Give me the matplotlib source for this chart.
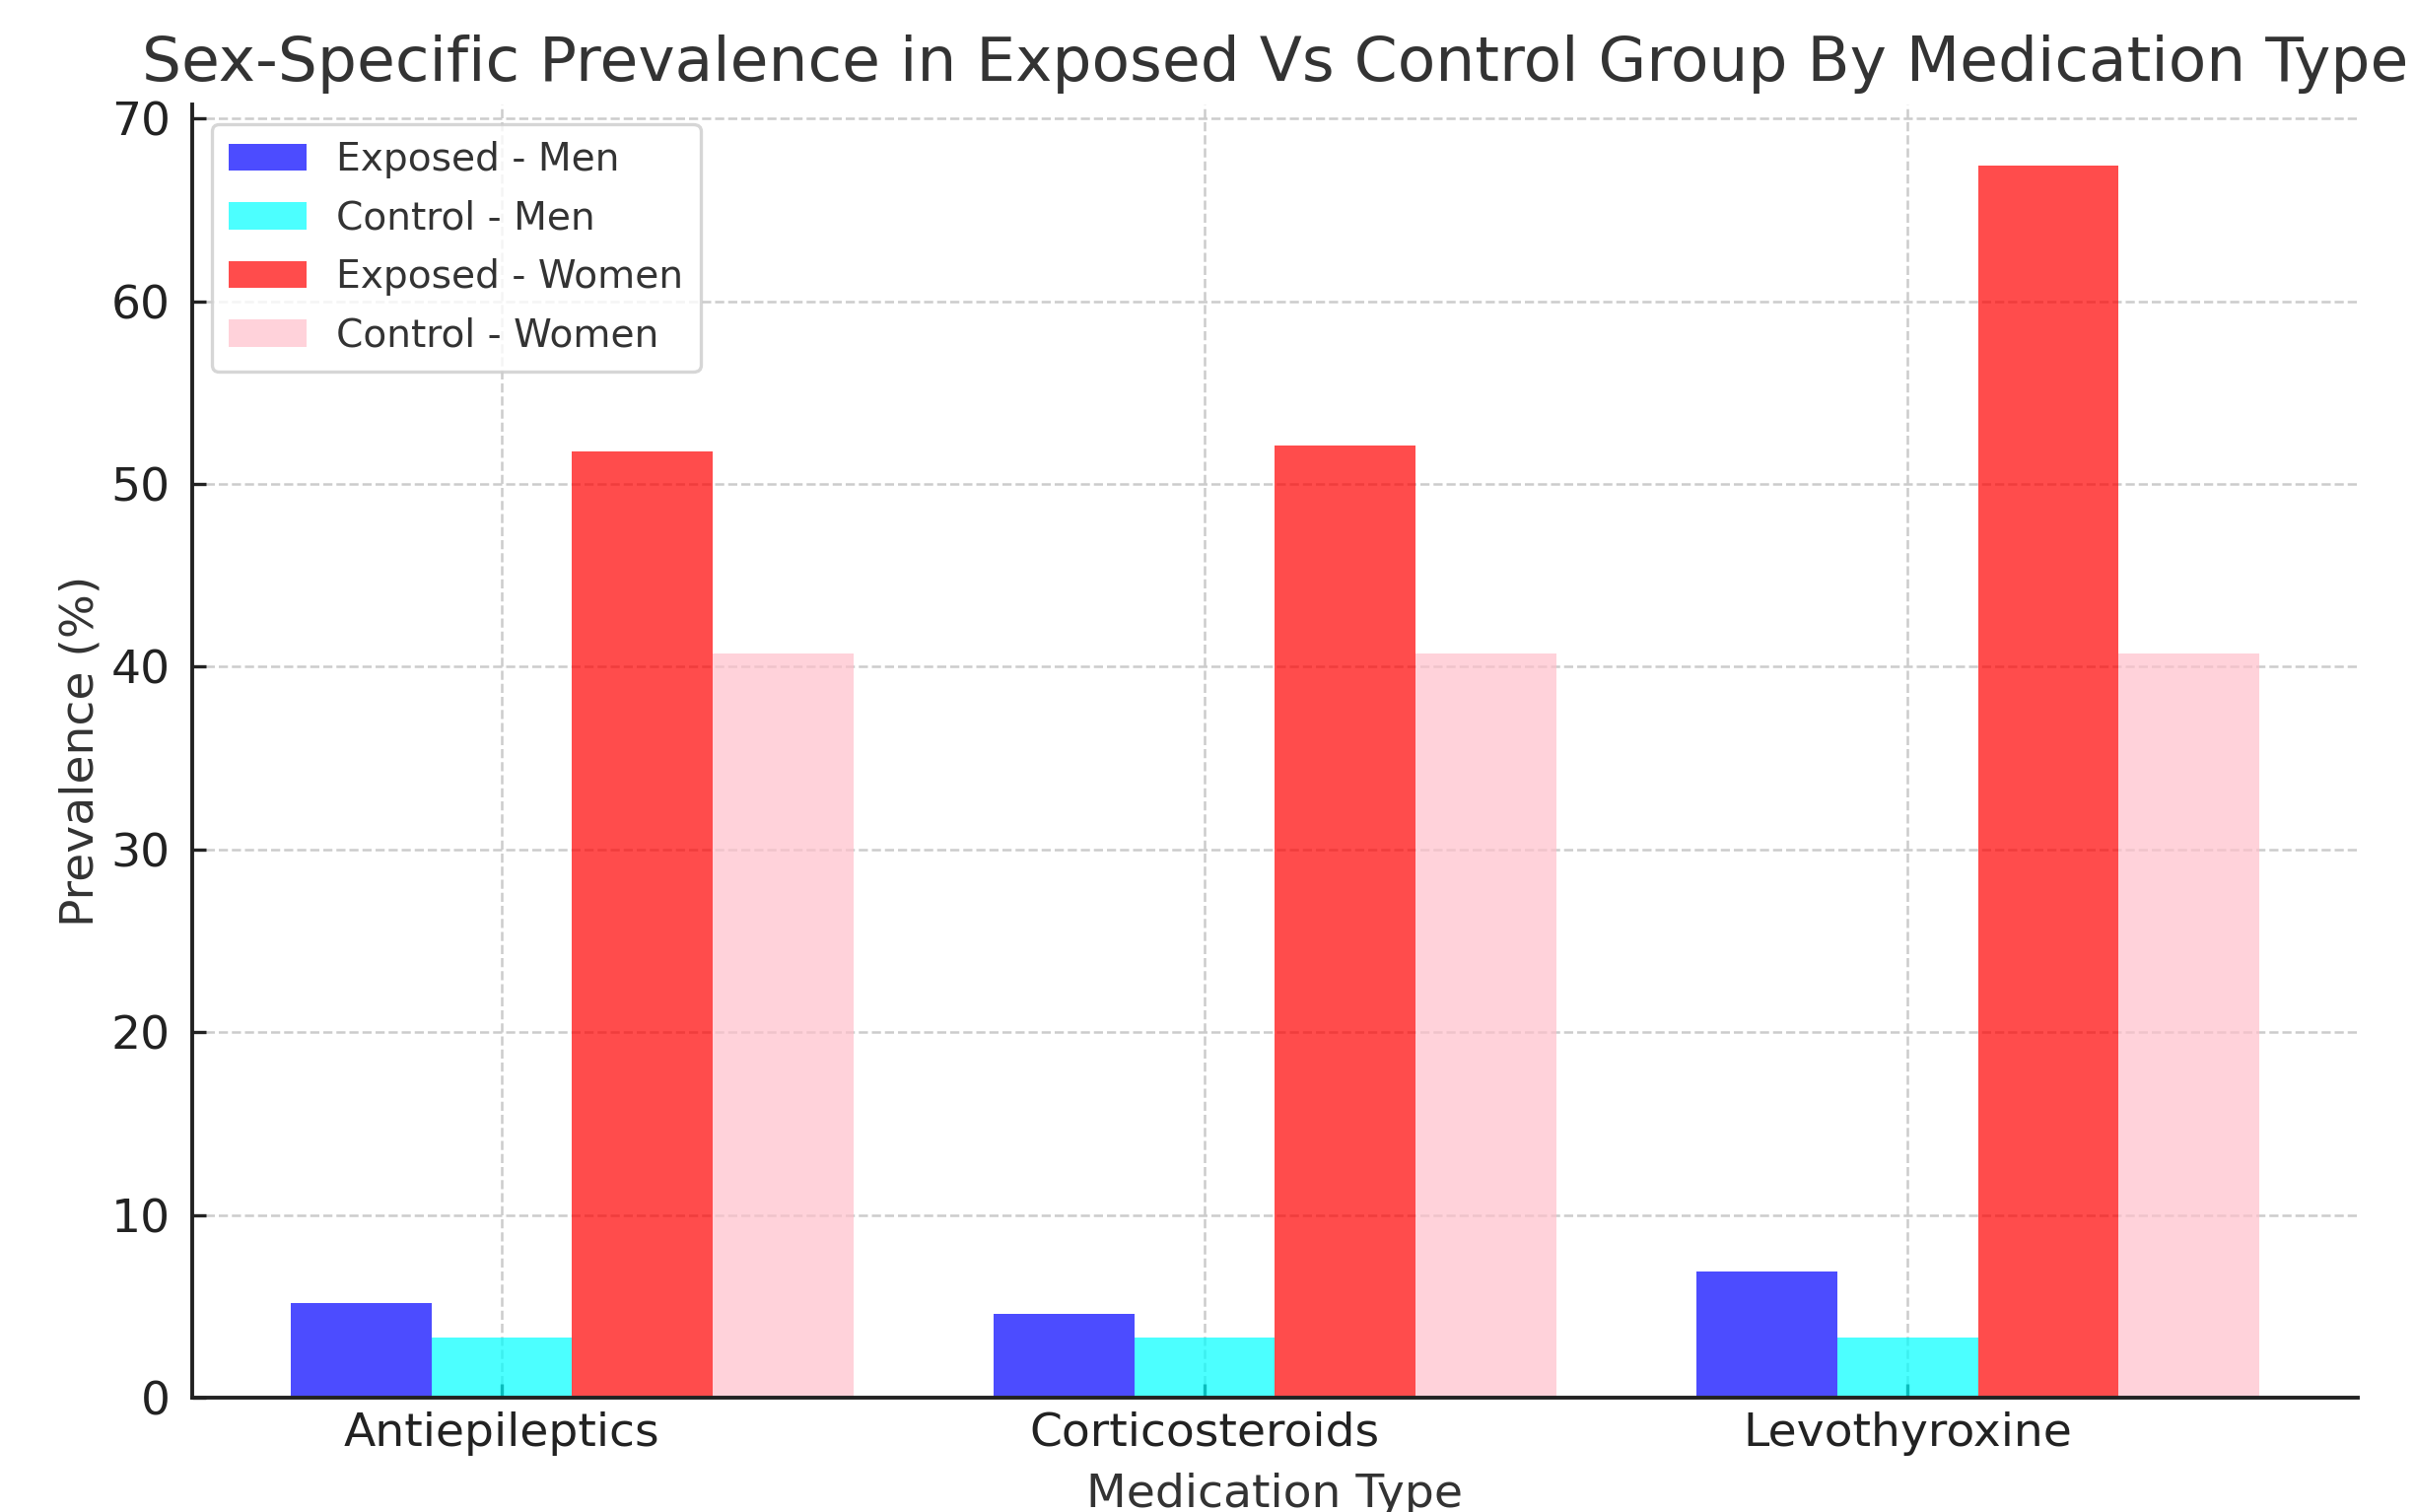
import numpy as np
import matplotlib
matplotlib.use("Agg")
import matplotlib.pyplot as plt

# Data
medications = ["Antiepileptics", "Corticosteroids", "Levothyroxine"]
exposed_men = [5.2, 4.6, 6.9]
control_men = [3.3, 3.3, 3.3]
exposed_women = [51.8, 52.1, 67.4]
control_women = [40.7, 40.7, 40.7]

series_labels = ["Exposed - Men", "Control - Men", "Exposed - Women", "Control - Women"]
series_colors = ["blue", "cyan", "red", "pink"]

plt.rcParams["font.family"] = "DejaVu Sans"

fig = plt.figure(figsize=(12.25, 7.67), dpi=200)
ax = fig.add_axes([0.0796, 0.0756, 0.8967, 0.8553])

x = np.arange(len(medications))
width = 0.2
series = [exposed_men, control_men, exposed_women, control_women]
for i, (vals, lab, col) in enumerate(zip(series, series_labels, series_colors)):
    ax.bar(x + (i - 1) * width, vals, width, label=lab, color=col, alpha=0.7)

ax.set_xticks(x)
ax.set_xticklabels(medications)
ax.set_title("Sex-Specific Prevalence in Exposed Vs Control Group By Medication Type",
             fontsize=22.7, color="#333333", pad=8.5)
ax.set_xlabel("Medication Type", fontsize=17, color="#333333", labelpad=6)
ax.set_ylabel("Prevalence (%)", fontsize=17, color="#333333", labelpad=3)
ax.tick_params(axis="both", labelsize=17, colors="#222222", length=5, width=1.2,
               direction="in")
ax.tick_params(axis="x", pad=5)
ax.tick_params(axis="y", pad=8)

ax.grid(True, linestyle="--", color="#cccccc", linewidth=0.9)
ax.set_axisbelow(True)
for side in ("top", "right"):
    ax.spines[side].set_visible(False)
for side in ("left", "bottom"):
    ax.spines[side].set_color("#222222")
    ax.spines[side].set_linewidth(1.4)

leg = ax.legend(loc="upper left", fontsize=14.1, frameon=True, fancybox=True,
                borderpad=0.45, labelspacing=0.55, handlelength=2.0, handletextpad=0.78,
                borderaxespad=0.5)
leg.get_frame().set_edgecolor("#cccccc")
leg.get_frame().set_linewidth(1.2)
for t in leg.get_texts():
    t.set_color("#333333")

fig.savefig("out.png", dpi=200)
